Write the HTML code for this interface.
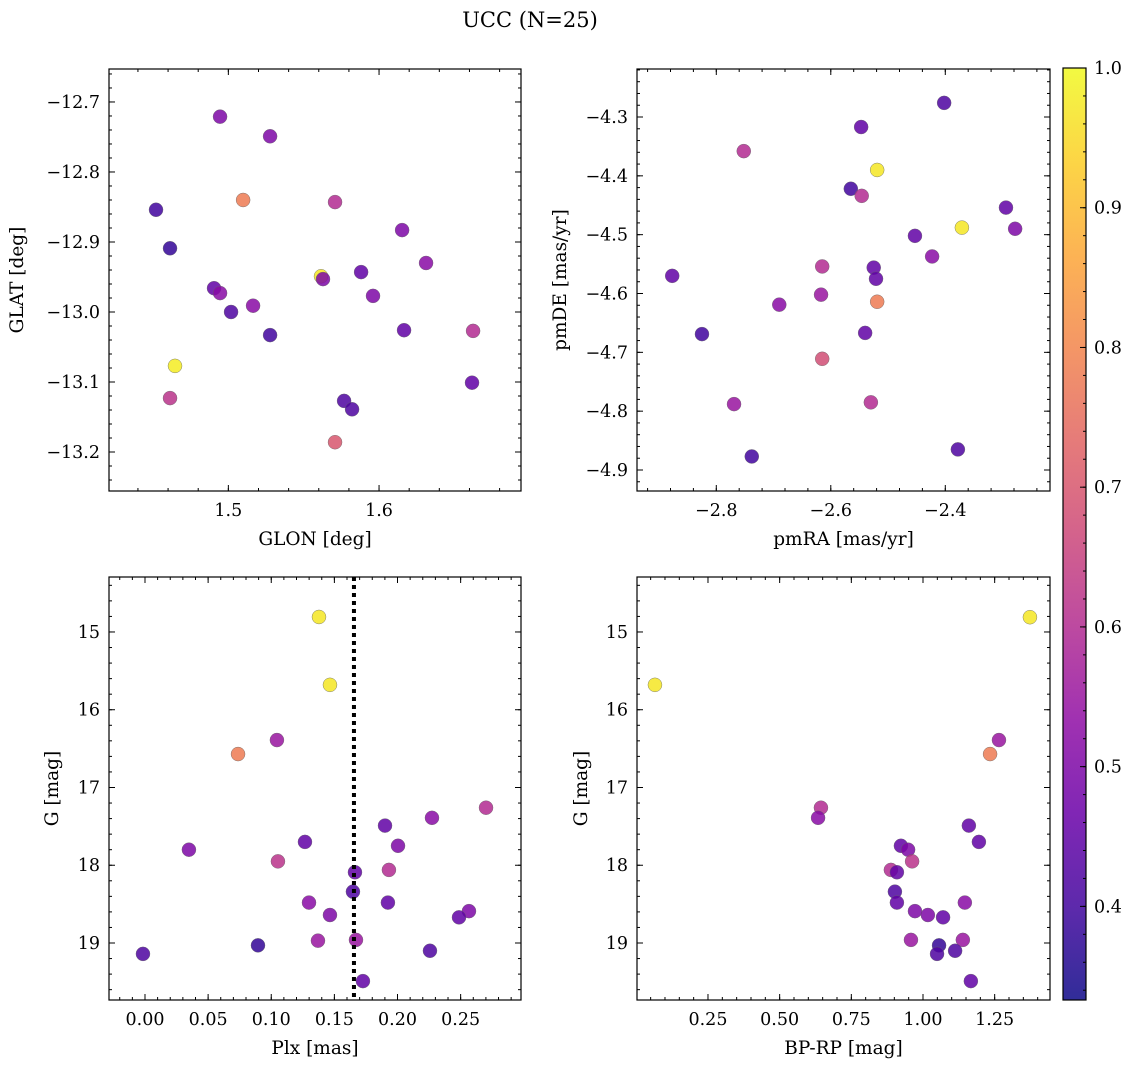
<!DOCTYPE html>
<html><head><meta charset="utf-8"><style>
body{margin:0;background:#fff}
svg{display:block;font-family:"DejaVu Serif","Liberation Serif",serif}
</style></head><body>
<svg id="fig" width="1136" height="1068" viewBox="0 0 1136 1068" xmlns="http://www.w3.org/2000/svg">
<defs>
<linearGradient id="cbg" x1="0" y1="1" x2="0" y2="0">
<stop offset="0" stop-color="#0d0887"/><stop offset="0.1" stop-color="#41049d"/><stop offset="0.2" stop-color="#6a00a8"/><stop offset="0.3" stop-color="#8f0da4"/><stop offset="0.4" stop-color="#b12a90"/><stop offset="0.5" stop-color="#cc4778"/><stop offset="0.6" stop-color="#e16462"/><stop offset="0.7" stop-color="#f2844b"/><stop offset="0.8" stop-color="#fca636"/><stop offset="0.9" stop-color="#fcce25"/><stop offset="1" stop-color="#f0f921"/>
</linearGradient>
</defs>
<text x="530" y="27" font-size="21" text-anchor="middle">UCC (N=25)</text>
</svg>
<script>
// ---- data ----
const probTL=[0.5,0.5,0.78,0.4,0.38,0.6,0.5,0.52,0.97,0.5,0.45,0.5,0.45,0.52,0.52,0.42,0.4,0.45,0.6,0.98,0.62,0.42,0.42,0.7,0.45];
const glon=[1.4945,1.5277,1.5098,1.4520,1.4613,1.5708,1.6153,1.6312,1.5615,1.5628,1.5881,1.5960,1.4905,1.4945,1.5164,1.5018,1.5277,1.6166,1.6624,1.4646,1.4613,1.5768,1.5821,1.5708,1.6617];
const glat=[-12.721,-12.749,-12.840,-12.854,-12.909,-12.843,-12.883,-12.930,-12.949,-12.953,-12.943,-12.977,-12.966,-12.973,-12.991,-13.0,-13.033,-13.026,-13.027,-13.077,-13.123,-13.127,-13.139,-13.186,-13.101];
const probTR=[0.42,0.45,0.6,0.97,0.4,0.6,0.97,0.45,0.5,0.45,0.52,0.6,0.45,0.45,0.55,0.45,0.52,0.78,0.45,0.4,0.68,0.55,0.6,0.42,0.4];
const pmra=[-2.402,-2.547,-2.752,-2.519,-2.565,-2.546,-2.371,-2.294,-2.278,-2.453,-2.423,-2.615,-2.525,-2.521,-2.617,-2.877,-2.690,-2.519,-2.540,-2.825,-2.615,-2.769,-2.530,-2.378,-2.738];
const pmde=[-4.276,-4.317,-4.358,-4.390,-4.422,-4.434,-4.488,-4.454,-4.490,-4.502,-4.537,-4.554,-4.556,-4.575,-4.602,-4.570,-4.619,-4.614,-4.667,-4.669,-4.711,-4.788,-4.785,-4.865,-4.877];
const probBL=[0.97,0.97,0.78,0.55,0.5,0.45,0.62,0.6,0.52,0.45,0.5,0.45,0.6,0.42,0.45,0.52,0.5,0.5,0.45,0.55,0.55,0.38,0.42,0.42,0.45];
const plx=[0.1378,0.1465,0.0737,0.1045,0.0348,0.1267,0.1053,0.2701,0.2273,0.1901,0.2004,0.1663,0.1932,0.1647,0.1924,0.1299,0.1465,0.2566,0.2487,0.1370,0.1671,0.0895,0.2257,-0.0016,0.1726];
const gBL=[14.807,15.68,16.57,16.39,17.80,17.70,17.95,17.26,17.39,17.49,17.75,18.09,18.06,18.34,18.48,18.48,18.64,18.59,18.67,18.97,18.96,19.03,19.10,19.14,19.49];
const plxLine=0.1655;
const probBR=[0.97,0.97,0.55,0.78,0.6,0.52,0.45,0.45,0.45,0.5,0.62,0.6,0.45,0.42,0.45,0.52,0.5,0.5,0.45,0.55,0.55,0.38,0.42,0.42,0.45];
const bprp=[1.373,0.065,1.265,1.234,0.644,0.634,1.160,1.195,0.923,0.948,0.962,0.888,0.909,0.902,0.909,1.146,0.972,1.017,1.070,0.958,1.139,1.056,1.112,1.049,1.167];
const gBR=[14.81,15.68,16.39,16.57,17.26,17.39,17.49,17.70,17.75,17.80,17.95,18.06,18.09,18.34,18.48,18.48,18.59,18.64,18.67,18.96,18.96,19.03,19.10,19.14,19.49];
const cbTicks=[0.4,0.5,0.6,0.7,0.8,0.9,1.0];
const VMIN=0.333,VMAX=1.0;

const NS="http://www.w3.org/2000/svg";
const svg=document.getElementById('fig');
function mk(tag,attrs,parent){const e=document.createElementNS(NS,tag);for(const k in attrs)e.setAttribute(k,attrs[k]);(parent||svg).appendChild(e);return e;}
const stops=[[0,[13,8,135]],[0.1,[65,4,157]],[0.2,[106,0,168]],[0.3,[143,13,164]],[0.4,[177,42,144]],[0.5,[204,71,120]],[0.6,[225,100,98]],[0.7,[242,132,75]],[0.8,[252,166,54]],[0.9,[252,206,37]],[1,[240,249,33]]];
function plasma(v){let t=(v-VMIN)/(VMAX-VMIN);t=Math.max(0,Math.min(1,t));for(let i=1;i<stops.length;i++){if(t<=stops[i][0]){const a=stops[i-1],b=stops[i];const f=(t-a[0])/(b[0]-a[0]);return 'rgb('+a[1].map((c,j)=>Math.round(c+(b[1][j]-c)*f)).join(',')+')';}}return 'rgb(240,249,33)';}

const TFS=17.5, LFS=18.5;
function panel(cfg){
  const {name,x0,x1,y0,y1,xmin,xmax,ymin,ymax,invertY,xt,xminor,yt,yminor,xl,yl,xs,ys,ps,xdec,ydec}=cfg;
  const g=mk('g',{});
  
  
  const sx=v=>x0+(v-xmin)/(xmax-xmin)*(x1-x0);
  const sy=invertY?(v=>y0+(v-ymin)/(ymax-ymin)*(y1-y0)):(v=>y1-(v-ymin)/(ymax-ymin)*(y1-y0));
  cfg.sx=sx;cfg.sy=sy;cfg.g=g;
  for(let i=0;i<xs.length;i++){
    const c=mk('circle',{cx:sx(xs[i]),cy:sy(ys[i]),r:7,fill:plasma(ps[i]),'fill-opacity':0.85,stroke:'#666','stroke-width':0.4},g);
    
    
  }
  if(cfg.extra)cfg.extra(cfg);
  const fr=mk('rect',{x:x0,y:y0,width:x1-x0,height:y1-y0,fill:'none',stroke:'#000','stroke-width':1.2},g);
  
  
  const inX=v=>v>=Math.min(xmin,xmax)-1e-9&&v<=Math.max(xmin,xmax)+1e-9;
  const inY=v=>v>=Math.min(ymin,ymax)-1e-9&&v<=Math.max(ymin,ymax)+1e-9;
  const tk=(x,y,x2,y2)=>mk('line',{x1:x,y1:y,x2:x2,y2:y2,stroke:'#000','stroke-width':1},g);
  for(let k=Math.ceil(xmin/xminor-1e-6);k*xminor<=xmax+1e-9;k++){const X=sx(k*xminor);tk(X,y1,X,y1-3);tk(X,y0,X,y0+3);}
  for(let k=Math.ceil(Math.min(ymin,ymax)/yminor-1e-6);k*yminor<=Math.max(ymin,ymax)+1e-9;k++){const Y=sy(k*yminor);tk(x0,Y,x0+3,Y);tk(x1,Y,x1-3,Y);}
  xt.forEach(v=>{if(!inX(v))return;const X=sx(v);tk(X,y1,X,y1-6);tk(X,y0,X,y0+6);
    const t=mk('text',{x:X,y:y1+25,'font-size':TFS,'text-anchor':'middle'},g);t.textContent=v.toFixed(xdec).replace('-','\u2212');
    });
  yt.forEach(v=>{if(!inY(v))return;const Y=sy(v);tk(x0,Y,x0+6,Y);tk(x1,Y,x1-6,Y);
    const t=mk('text',{x:x0-9,y:Y+6,'font-size':TFS,'text-anchor':'end'},g);t.textContent=v.toFixed(ydec).replace('-','\u2212');
    });
  const xlab=mk('text',{x:(x0+x1)/2,y:y1+54,'font-size':LFS,'text-anchor':'middle'},g);xlab.textContent=xl;
  
  const cy=(y0+y1)/2,cx=cfg.ylx;
  const ylab=mk('text',{x:cx,y:cy,'font-size':LFS,'text-anchor':'middle',transform:`rotate(-90 ${cx} ${cy})`},g);ylab.textContent=yl;
  
}
panel({name:'glon-glat-panel',x0:109,x1:521,y0:69,y1:491,xmin:1.4208,xmax:1.6942,ymin:-13.2557,ymax:-12.6529,xt:[1.5,1.6],xminor:0.02,yt:[-12.7,-12.8,-12.9,-13.0,-13.1,-13.2],yminor:0.02,xl:'GLON [deg]',yl:'GLAT [deg]',xs:glon,ys:glat,ps:probTL,xdec:1,ydec:1,ylx:23});
panel({name:'pm-panel',x0:637,x1:1050,y0:69,y1:491,xmin:-2.9385,xmax:-2.2171,ymin:-4.9357,ymax:-4.2184,xt:[-2.8,-2.6,-2.4],xminor:0.04,yt:[-4.3,-4.4,-4.5,-4.6,-4.7,-4.8,-4.9],yminor:0.02,xl:'pmRA [mas/yr]',yl:'pmDE [mas/yr]',xs:pmra,ys:pmde,ps:probTR,xdec:1,ydec:1,ylx:566});
panel({name:'plx-g-panel',x0:109,x1:521,y0:577,y1:1000,xmin:-0.0285,xmax:0.2978,ymin:14.293,ymax:19.733,invertY:true,xt:[0,0.05,0.1,0.15,0.2,0.25],xminor:0.01,yt:[15,16,17,18,19],yminor:0.2,xl:'Plx [mas]',yl:'G [mag]',xs:plx,ys:gBL,ps:probBL,xdec:2,ydec:0,ylx:58,
  extra:c=>{const X=c.sx(plxLine);const l=mk('line',{x1:X,y1:c.y0,x2:X,y2:c.y1,stroke:'#000','stroke-width':4,'stroke-dasharray':'4 4'},c.g);
    }});
panel({name:'cmd-panel',x0:637,x1:1050,y0:577,y1:1000,xmin:0.0024,xmax:1.443,ymin:14.293,ymax:19.733,invertY:true,xt:[0.25,0.5,0.75,1.0,1.25],xminor:0.05,yt:[15,16,17,18,19],yminor:0.2,xl:'BP-RP [mag]',yl:'G [mag]',xs:bprp,ys:gBR,ps:probBR,xdec:2,ydec:0,ylx:587});

const cb=mk('g',{});


const cbx=1063,cbw=23,cby0=68,cby1=1000;
mk('rect',{x:cbx,y:cby0,width:cbw,height:cby1-cby0,fill:'url(#cbg)','fill-opacity':0.85},cb);
mk('rect',{x:cbx,y:cby0,width:cbw,height:cby1-cby0,fill:'none',stroke:'#000','stroke-width':1.2},cb);
const cs=v=>cby1-(v-VMIN)/(VMAX-VMIN)*(cby1-cby0);
for(let k=17;k<=50;k++){const Y=cs(k*0.02);mk('line',{x1:cbx+cbw,y1:Y,x2:cbx+cbw-3,y2:Y,stroke:'#000'},cb);}
cbTicks.forEach(v=>{const Y=cs(v);mk('line',{x1:cbx+cbw,y1:Y,x2:cbx+cbw-6,y2:Y,stroke:'#000'},cb);
  const t=mk('text',{x:cbx+cbw+8,y:Y+6,'font-size':TFS},cb);t.textContent=v.toFixed(1);
  });
</script>
</body></html>
